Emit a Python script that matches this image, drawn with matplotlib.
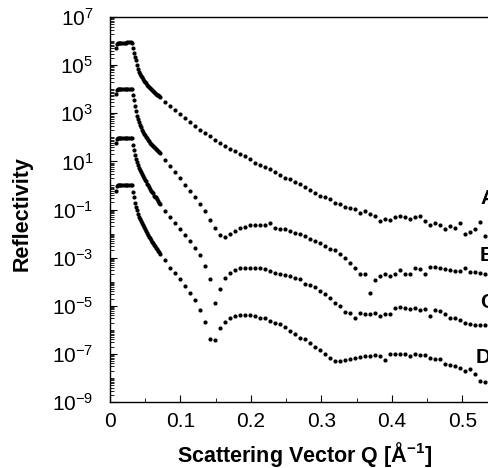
import numpy as np
import matplotlib
matplotlib.use("Agg")
import matplotlib.pyplot as plt
from matplotlib.ticker import FixedLocator, LogLocator, NullFormatter, FixedFormatter

plt.rcParams['font.family'] = ['Liberation Sans', 'DejaVu Sans']
plt.rcParams['mathtext.default'] = 'regular'

# ---- data (Q in 1/Angstrom, log10 of reflectivity) ----
# low-Q, densely sampled region (plateau + critical edge drop)
q_low = [0.0085, 0.0099, 0.0113, 0.0128, 0.0142, 0.0163, 0.0184, 0.0206, 0.0227,
         0.0248, 0.0270, 0.0291, 0.0312, 0.0326, 0.0340, 0.0355, 0.0369, 0.0383,
         0.0397, 0.0411, 0.0426, 0.0440, 0.0454, 0.0468, 0.0482, 0.0496, 0.0511,
         0.0525, 0.0539, 0.0553, 0.0567, 0.0582, 0.0596, 0.0610, 0.0624, 0.0638,
         0.0652, 0.0667, 0.0681, 0.0695, 0.0709]

logA_low = [5.71, 5.88, 5.92, 5.92, 5.92, 5.93, 5.93, 5.94, 5.94, 5.95, 5.95, 5.96, 5.94,
            5.71, 5.50, 5.33, 5.21, 5.00, 4.83, 4.71, 4.63, 4.54, 4.50, 4.42, 4.33, 4.29,
            4.25, 4.17, 4.13, 4.08, 4.04, 4.00, 3.96, 3.92, 3.88, 3.83, 3.79, 3.75, 3.75,
            3.71, 3.67]
logB_low = [3.79, 3.96, 4.00, 4.00, 4.00, 4.00, 4.01, 4.01, 4.01, 4.02, 4.02, 4.02, 4.00,
            3.75, 3.54, 3.29, 3.08, 2.88, 2.75, 2.63, 2.50, 2.42, 2.29, 2.21, 2.13, 2.08,
            2.00, 1.96, 1.88, 1.83, 1.75, 1.71, 1.67, 1.63, 1.58, 1.54, 1.50, 1.46, 1.42,
            1.38, 1.33]
logC_low = [1.75, 1.92, 1.96, 1.96, 1.96, 1.96, 1.97, 1.97, 1.97, 1.98, 1.98, 1.98, 1.96,
            1.67, 1.46, 1.25, 1.08, 0.96, 0.83, 0.71, 0.63, 0.54, 0.46, 0.38, 0.29, 0.21,
            0.17, 0.08, 0.00, -0.08, -0.13, -0.21, -0.29, -0.33, -0.42, -0.46, -0.50,
            -0.58, -0.63, -0.71, -0.75]
logD_low = [-0.21, -0.04, 0.00, 0.00, 0.00, 0.00, 0.01, 0.01, 0.01, 0.02, 0.02, 0.02, 0.00,
            -0.29, -0.50, -0.71, -0.88, -1.04, -1.17, -1.29, -1.38, -1.46, -1.54, -1.63,
            -1.71, -1.79, -1.88, -1.96, -2.04, -2.13, -2.17, -2.25, -2.33, -2.38, -2.46,
            -2.50, -2.58, -2.63, -2.71, -2.75, -2.83]

# higher-Q, sparsely sampled region
q_high = [0.0780, 0.0851, 0.0922, 0.0993, 0.1064, 0.1135, 0.1206, 0.1277, 0.1348, 0.1418,
          0.1489, 0.1560, 0.1631, 0.1702, 0.1773, 0.1844, 0.1915, 0.1986, 0.2057, 0.2128,
          0.2199, 0.2270, 0.2340, 0.2411, 0.2482, 0.2553, 0.2624, 0.2695, 0.2766, 0.2837,
          0.2908, 0.2979, 0.3050, 0.3121, 0.3191, 0.3262, 0.3333, 0.3404, 0.3475, 0.3546,
          0.3617, 0.3688, 0.3759, 0.3830, 0.3901, 0.3972, 0.4043, 0.4113, 0.4184, 0.4255,
          0.4326, 0.4397, 0.4468, 0.4539, 0.4610, 0.4681, 0.4752, 0.4823, 0.4894, 0.4965,
          0.5035, 0.5106, 0.5177, 0.5248, 0.5319]

logA_high = [3.46, 3.29, 3.13, 2.96, 2.79, 2.63, 2.46, 2.29, 2.17, 2.04, 1.88, 1.75, 1.63,
             1.50, 1.42, 1.29, 1.21, 1.08, 0.92, 0.83, 0.75, 0.67, 0.54, 0.42, 0.33, 0.25,
             0.13, 0.08, -0.08, -0.17, -0.33, -0.42, -0.50, -0.58, -0.71, -0.75, -0.88,
             -0.92, -0.96, -1.13, -1.08, -1.17, -1.25, -1.46, -1.38, -1.42, -1.33, -1.25,
             -1.33, -1.38, -1.33, -1.25, -1.46, -1.63, -1.58, -1.63, -1.83, -1.67, -1.75,
             -1.54, -2.00, -1.92, -1.83, -1.50, -2.08]
logB_high = [1.04, 0.79, 0.54, 0.29, 0.04, -0.21, -0.50, -0.75, -1.08, -1.42, -1.75, -2.04,
             -2.13, -2.00, -1.88, -1.75, -1.71, -1.63, -1.63, -1.63, -1.63, -1.58, -1.75,
             -1.79, -1.83, -1.88, -1.96, -2.00, -2.08, -2.21, -2.29, -2.38, -2.50, -2.63,
             -2.67, -2.83, -3.00, -3.21, -3.42, -3.67, -3.67, -4.46, -3.92, -3.75, -3.67,
             -3.75, -3.67, -3.50, -3.67, -3.67, -3.42, -3.46, -3.67, -3.38, -3.38, -3.42,
             -3.46, -3.50, -3.54, -3.54, -3.42, -3.58, -3.58, -3.63, -3.67]
logC_high = [-1.08, -1.29, -1.54, -1.79, -2.04, -2.29, -2.58, -2.88, -3.33, -3.88, -4.88,
             -4.29, -3.83, -3.63, -3.50, -3.42, -3.42, -3.42, -3.42, -3.42, -3.46, -3.54,
             -3.63, -3.67, -3.71, -3.75, -3.83, -3.88, -4.08, -4.13, -4.21, -4.38, -4.50,
             -4.67, -4.88, -5.00, -5.25, -5.29, -5.50, -5.29, -5.33, -5.33, -5.29, -5.42,
             -5.33, -5.33, -5.08, -5.04, -5.08, -5.13, -5.08, -5.17, -5.13, -5.42, -5.17,
             -5.21, -5.33, -5.50, -5.50, -5.58, -5.71, -5.75, -5.79, -5.79, -5.79]
logD_high = [-3.08, -3.42, -3.63, -3.88, -4.17, -4.46, -4.75, -5.17, -5.67, -6.38, -6.42,
             -5.92, -5.67, -5.50, -5.42, -5.38, -5.38, -5.38, -5.42, -5.50, -5.50, -5.63,
             -5.71, -5.75, -5.88, -6.04, -6.17, -6.33, -6.38, -6.54, -6.71, -6.83, -7.00,
             -7.17, -7.29, -7.29, -7.25, -7.21, -7.17, -7.13, -7.08, -7.08, -7.04, -7.08,
             -7.25, -7.00, -7.00, -7.00, -7.00, -7.08, -7.00, -7.04, -7.04, -7.17, -7.21,
             -7.21, -7.42, -7.46, -7.50, -7.58, -7.71, -7.63, -7.83, -8.13, -8.17]

curve_names = ['A', 'B', 'C', 'D']
label_q = [0.525, 0.525, 0.525, 0.519]
label_log = [-0.55, -2.92, -4.88, -7.17]

x_ticks = [0, 0.1, 0.2, 0.3, 0.4, 0.5]
x_ticklabels = ['0', '0.1', '0.2', '0.3', '0.4', '0.5']
y_label_exps = [7, 5, 3, 1, -1, -3, -5, -7, -9]

# ---- figure ----
fig = plt.figure(figsize=(4.88, 4.68), dpi=100)
ax = fig.add_axes([0.2254, 0.1410, 0.809, 0.8226])

lows = [logA_low, logB_low, logC_low, logD_low]
highs = [logA_high, logB_high, logC_high, logD_high]
for lo, hi in zip(lows, highs):
    ax.plot(q_low, 10.0 ** np.array(lo), 'o', color='black', ms=3.0, mew=0)
    ax.plot(q_high, 10.0 ** np.array(hi), 'o', color='black', ms=3.0, mew=0)

for name, lq, ll in zip(curve_names, label_q, label_log):
    ax.text(lq, 10.0 ** ll, name, fontsize=15, fontweight='bold', ha='left', va='center')

ax.set_yscale('log')
ax.set_ylim(1e-9, 1e7)
ax.set_xlim(0, 0.56)

ax.yaxis.set_major_locator(FixedLocator([10.0 ** k for k in y_label_exps]))
ax.yaxis.set_major_formatter(FixedFormatter(['10$^{%d}$' % k for k in y_label_exps]))
ax.yaxis.set_minor_locator(LogLocator(base=10, subs=np.arange(1, 10), numticks=40))
ax.yaxis.set_minor_formatter(NullFormatter())

ax.set_xticks(x_ticks)
ax.set_xticklabels(x_ticklabels)
ax.set_xticks([0.05, 0.15, 0.25, 0.35, 0.45, 0.55], minor=True)

ax.tick_params(axis='both', which='major', direction='in', length=5, width=0.8,
               labelsize=15)
ax.tick_params(axis='y', which='major', pad=12)
ax.tick_params(axis='x', which='major', pad=7)
ax.tick_params(axis='both', which='minor', direction='in', length=3, width=0.6)
ax.tick_params(axis='y', which='both', right=False)
ax.tick_params(axis='x', which='both', top=False)

ax.spines['right'].set_visible(False)
for s in ['left', 'bottom', 'top']:
    ax.spines[s].set_linewidth(1.0)

ax.set_ylabel('Reflectivity', fontsize=15.5, fontweight='bold')
ax.yaxis.set_label_coords(-0.195, 0.49)
ax.set_xlabel('Scattering Vector Q [Å$^{-1}$]', fontsize=15.5, fontweight='bold')
ax.xaxis.set_label_coords(0.493, -0.098)

fig.savefig('out.png', dpi=100)
